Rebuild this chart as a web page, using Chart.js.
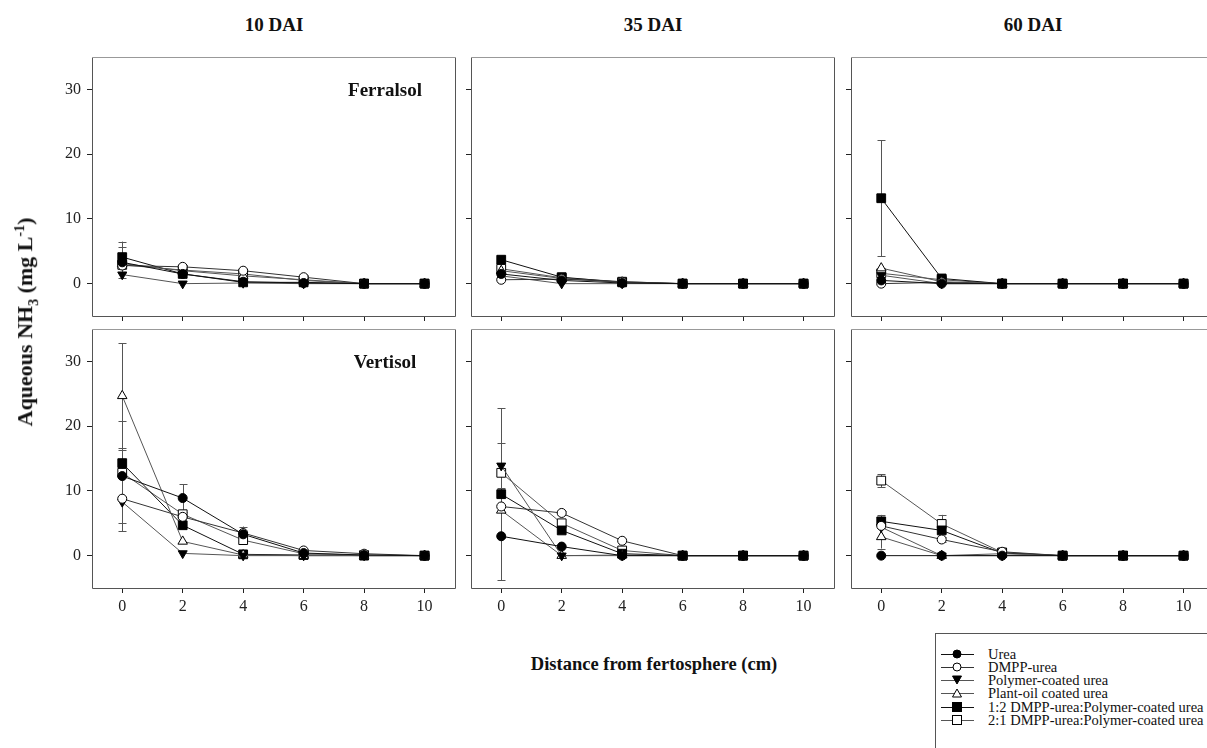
<!DOCTYPE html>
<html>
<head>
<meta charset="utf-8">
<script src="https://cdn.jsdelivr.net/npm/chart.js@4.4.0/dist/chart.umd.min.js"></script>
<style>
html,body{margin:0;padding:0;background:#fff;overflow:hidden;width:1207px;height:748px;}
#wrap{position:relative;width:1207px;height:748px;overflow:hidden;font-family:"Liberation Serif","Times New Roman",serif;color:#111;}
canvas{position:absolute;}
.t{position:absolute;white-space:nowrap;transform:translate(-50%,-50%);font-weight:bold;}
.day{font-size:19px;}
.soil{font-size:19px;}
#ytitle{font-size:22px;transform:translate(-50%,-50%) rotate(-90deg);}
#xtitle{font-size:18.5px;}
#legend{position:absolute;left:935px;top:633px;width:320px;height:140px;border:1px solid #555;box-sizing:border-box;}
.lrow{position:absolute;left:0;height:14px;font-size:14.5px;line-height:14px;white-space:nowrap;}
.lrow svg{position:absolute;left:4px;top:0;}
.lrow span{position:absolute;left:52px;top:0;}
</style>
</head>
<body>
<div id="wrap"></div>
<script>
// ---------------- DATA ----------------
const distances = [0, 2, 4, 6, 8, 10];
const xTicks = [0, 2, 4, 6, 8, 10];
const yTicks = [0, 10, 20, 30];
const dayLabels = ['10 DAI', '35 DAI', '60 DAI'];
const soilLabels = ['Ferralsol', 'Vertisol'];
const seriesNames = ['Urea', 'DMPP-urea', 'Polymer-coated urea', 'Plant-oil coated urea',
  '1:2 DMPP-urea:Polymer-coated urea', '2:1 DMPP-urea:Polymer-coated urea'];

// rows: Urea, DMPP-urea, Polymer-coated, Plant-oil, 1:2, 2:1
const ferralsol10 = [
  [3.3, 1.5, 0.3, 0.1, 0, 0],
  [2.8, 2.6, 2.0, 1.0, 0, 0],
  [1.4, 0.0, 0.1, 0.0, 0, 0],
  [3.1, 2.0, 1.2, 0.6, 0, 0],
  [4.1, 1.5, 0.2, 0.2, 0, 0],
  [2.9, 2.1, 1.5, 0.5, 0, 0]
];
const ferralsol10Err = [
  [2.4, 0, 0, 0, 0, 0],
  [0, 0.3, 0.3, 0.3, 0, 0],
  [0, 0, 0, 0, 0, 0],
  [0, 0, 0, 0, 0, 0],
  [2.4, 0, 0, 0, 0, 0],
  [0, 0, 0, 0, 0, 0]
];
const ferralsol35 = [
  [1.5, 0.5, 0.1, 0, 0, 0],
  [0.6, 0.7, 0.3, 0, 0, 0],
  [1.2, 0.0, 0.0, 0, 0, 0],
  [2.0, 0.8, 0.2, 0, 0, 0],
  [3.7, 1.0, 0.2, 0, 0, 0],
  [2.3, 0.9, 0.3, 0, 0, 0]
];
const ferralsol35Err = [
  [0, 0, 0, 0, 0, 0],
  [0, 0, 0, 0, 0, 0],
  [0, 0, 0, 0, 0, 0],
  [0, 0, 0, 0, 0, 0],
  [0.4, 0, 0, 0, 0, 0],
  [0, 0, 0, 0, 0, 0]
];
const ferralsol60 = [
  [0.5, 0.0, 0, 0, 0, 0],
  [0.0, 0.2, 0, 0, 0, 0],
  [1.3, 0.0, 0, 0, 0, 0],
  [2.4, 0.3, 0, 0, 0, 0],
  [13.2, 0.8, 0, 0, 0, 0],
  [1.6, 0.6, 0, 0, 0, 0]
];
const ferralsol60Err = [
  [0, 0, 0, 0, 0, 0],
  [0, 0, 0, 0, 0, 0],
  [0, 0, 0, 0, 0, 0],
  [0, 0, 0, 0, 0, 0],
  [9.0, 0.3, 0, 0, 0, 0],
  [0, 0, 0, 0, 0, 0]
];
const vertisol10 = [
  [12.3, 8.9, 3.3, 0.4, 0.1, 0],
  [8.8, 6.0, 3.5, 0.8, 0.3, 0],
  [8.3, 0.35, 0.0, 0.0, 0, 0],
  [24.7, 2.2, 0.1, 0.0, 0, 0],
  [14.3, 4.7, 0.2, 0.1, 0, 0],
  [12.8, 6.4, 2.4, 0.3, 0.1, 0]
];
const vertisol10Err = [
  [8.5, 2.1, 0, 0, 0, 0],
  [3.7, 0, 1.0, 0, 0, 0],
  [0, 0, 0, 0, 0, 0],
  [8.1, 0, 0, 0, 0, 0],
  [2.0, 0, 0, 0, 0, 0],
  [0, 0, 0, 0, 0, 0]
];
const vertisol35 = [
  [3.0, 1.4, 0.0, 0, 0, 0],
  [7.6, 6.6, 2.3, 0, 0, 0],
  [13.9, 0.0, 0.0, 0, 0, 0],
  [7.0, 0.0, 0.1, 0, 0, 0],
  [9.5, 3.9, 0.3, 0, 0, 0],
  [12.8, 5.0, 0.8, 0, 0, 0]
];
const vertisol35Err = [
  [6.8, 0, 0, 0, 0, 0],
  [0, 0.3, 0, 0, 0, 0],
  [3.5, 0, 0, 0, 0, 0],
  [0, 0, 0, 0, 0, 0],
  [0, 0, 0, 0, 0, 0],
  [10.0, 0, 0, 0, 0, 0]
];
const vertisol60 = [
  [0.0, 0.0, 0.0, 0, 0, 0],
  [4.6, 2.5, 0.6, 0, 0, 0],
  [4.4, 0.0, 0.0, 0, 0, 0],
  [2.9, 0.0, 0.3, 0, 0, 0],
  [5.3, 3.9, 0.4, 0, 0, 0],
  [11.6, 4.9, 0.5, 0, 0, 0]
];
const vertisol60Err = [
  [0, 0, 0, 0, 0, 0],
  [0, 0.4, 0, 0, 0, 0],
  [0, 0, 0, 0, 0, 0],
  [1.8, 0, 0, 0, 0, 0],
  [1.0, 0, 0, 0, 0, 0],
  [1.0, 1.4, 0, 0, 0, 0]
];

// ---------------- STYLE / LAYOUT ----------------
const FONT = '"Liberation Serif","Times New Roman",serif';
const seriesStyles = [
  {pointStyle:'circle',   rot:0,   r:4.5, fill:'#000', line:'#111'},
  {pointStyle:'circle',   rot:0,   r:4.5, fill:'#fff', line:'#333'},
  {pointStyle:'triangle', rot:180, r:5.2, fill:'#000', line:'#555'},
  {pointStyle:'triangle', rot:0,   r:5.5, fill:'#fff', line:'#555'},
  {pointStyle:'rect',     rot:0,   r:6.2, fill:'#000', line:'#111'},
  {pointStyle:'rect',     rot:0,   r:6.2, fill:'#fff', line:'#555'}
];
const colLeft = [92, 471, 851];
const rowTop = [56, 328];
const PW = 364, PH = 260;
const padL = 55, padT = 6, padR = 6, padB = 34;

const panelData = [
  [ferralsol10, ferralsol35, ferralsol60],
  [vertisol10, vertisol35, vertisol60]
];
const panelErr = [
  [ferralsol10Err, ferralsol35Err, ferralsol60Err],
  [vertisol10Err, vertisol35Err, vertisol60Err]
];

const wrap = document.getElementById('wrap');

const boxPlugin = {
  id: 'box',
  afterDraw(chart) {
    const a = chart.chartArea, c = chart.ctx;
    const l = Math.round(a.left) + 0.5, t = Math.round(a.top) + 0.5;
    const r = Math.round(a.right) + 0.5, b = Math.round(a.bottom) + 0.5;
    c.save();
    c.lineWidth = 1;
    c.strokeStyle = '#555';
    c.beginPath();
    c.moveTo(r, t); c.lineTo(r, b); c.lineTo(l, b); c.lineTo(l, t);
    c.stroke();
    c.strokeStyle = '#999';
    c.beginPath();
    c.moveTo(l, t); c.lineTo(r, t);
    c.stroke();
    c.restore();
  }
};

const errPlugin = {
  id: 'errbars',
  beforeDatasetsDraw(chart) {
    const c = chart.ctx, xs = chart.scales.x, ys = chart.scales.y;
    c.save();
    c.strokeStyle = '#555';
    c.lineWidth = 1;
    chart.data.datasets.forEach(ds => {
      ds.data.forEach((p, j) => {
        const e = ds.err[j];
        if (!e) return;
        const px = Math.round(xs.getPixelForValue(p.x)) + 0.5;
        const y1 = ys.getPixelForValue(p.y + e), y2 = ys.getPixelForValue(p.y - e);
        c.beginPath();
        c.moveTo(px, y1); c.lineTo(px, y2);
        c.moveTo(px - 4, Math.round(y1) + 0.5); c.lineTo(px + 4, Math.round(y1) + 0.5);
        c.moveTo(px - 4, Math.round(y2) + 0.5); c.lineTo(px + 4, Math.round(y2) + 0.5);
        c.stroke();
      });
    });
    c.restore();
  }
};

function makePanel(row, col) {
  const values = panelData[row][col], errs = panelErr[row][col];
  const cv = document.createElement('canvas');
  cv.width = PW + padL + padR;
  cv.height = PH + padT + padB;
  cv.style.left = (colLeft[col] - padL) + 'px';
  cv.style.top = (rowTop[row] - padT) + 'px';
  wrap.appendChild(cv);
  const datasets = seriesNames.map((name, i) => {
    const s = seriesStyles[i];
    return {
      label: name,
      data: distances.map((d, j) => ({x: d, y: values[i][j]})),
      err: errs[i],
      borderColor: s.line,
      borderWidth: 1,
      tension: 0,
      pointStyle: s.pointStyle,
      pointRotation: s.rot,
      pointRadius: s.r,
      pointBackgroundColor: s.fill,
      pointBorderColor: '#000',
      pointBorderWidth: 1,
      fill: false
    };
  });
  new Chart(cv, {
    type: 'line',
    data: {datasets},
    options: {
      responsive: false,
      animation: false,
      devicePixelRatio: 1,
      layout: {padding: {top: padT, right: padR, left: 0, bottom: 0}},
      plugins: {legend: {display: false}, tooltip: {enabled: false}},
      scales: {
        x: {
          type: 'linear', min: -1, max: 11,
          afterBuildTicks: s => { s.ticks = xTicks.map(v => ({value: v})); },
          afterFit: s => { s.height = padB; s.paddingLeft = 0; s.paddingRight = 0; s.paddingTop = 0; s.paddingBottom = 0; },
          grid: {display: true, drawOnChartArea: false, drawTicks: true, tickLength: 5, color: '#222', lineWidth: 1},
          border: {display: false},
          ticks: {display: row === 1, color: '#222', padding: 4, maxRotation: 0, autoSkip: false,
            font: {family: FONT, size: 16}}
        },
        y: {
          type: 'linear', min: -5, max: 35,
          afterBuildTicks: s => { s.ticks = yTicks.map(v => ({value: v})); },
          afterFit: s => { s.width = padL; s.paddingTop = 0; s.paddingBottom = 0; s.paddingLeft = 0; s.paddingRight = 0; },
          grid: {display: true, drawOnChartArea: false, drawTicks: true, tickLength: 5, color: '#222', lineWidth: 1},
          border: {display: false},
          ticks: {display: col === 0, color: '#222', padding: 6, font: {family: FONT, size: 16}}
        }
      }
    },
    plugins: [errPlugin, boxPlugin]
  });
}

for (let r = 0; r < 2; r++) for (let c = 0; c < 3; c++) makePanel(r, c);

function addText(cls, html, x, y, id) {
  const d = document.createElement('div');
  d.className = 't ' + cls;
  if (id) d.id = id;
  d.innerHTML = html;
  d.style.left = x + 'px';
  d.style.top = y + 'px';
  wrap.appendChild(d);
}
dayLabels.forEach((t, i) => addText('day', t, colLeft[i] + PW / 2, 25));
soilLabels.forEach((t, i) => addText('soil', t, colLeft[0] + 293, rowTop[i] + 34));
addText('', 'Aqueous NH<sub style="font-size:14px">3</sub> (mg L<sup style="font-size:14px">-1</sup>)', 27, 322, 'ytitle');
addText('', 'Distance from fertosphere (cm)', 654, 664, 'xtitle');

// legend
const leg = document.createElement('div');
leg.id = 'legend';
wrap.appendChild(leg);
function markerSVG(i) {
  const s = seriesStyles[i];
  let m = '';
  if (s.pointStyle === 'circle') m = `<circle cx="17" cy="7" r="4" fill="${s.fill}" stroke="#000" stroke-width="1"/>`;
  else if (s.pointStyle === 'rect') m = `<rect x="12.5" y="2.5" width="9" height="9" fill="${s.fill}" stroke="#000" stroke-width="1"/>`;
  else if (s.rot === 180) m = `<polygon points="12.5,3 21.5,3 17,11" fill="${s.fill}" stroke="#000" stroke-width="1"/>`;
  else m = `<polygon points="12.5,11 21.5,11 17,3" fill="${s.fill}" stroke="#000" stroke-width="1"/>`;
  return `<svg width="36" height="14"><line x1="1" y1="7.5" x2="34" y2="7.5" stroke="${s.line}" stroke-width="1.2"/>${m}</svg>`;
}
seriesNames.forEach((n, i) => {
  const r = document.createElement('div');
  r.className = 'lrow';
  r.style.top = (12.7 + i * 13.2) + 'px';
  r.innerHTML = markerSVG(i) + `<span>${n}</span>`;
  leg.appendChild(r);
});
</script>
</body>
</html>
